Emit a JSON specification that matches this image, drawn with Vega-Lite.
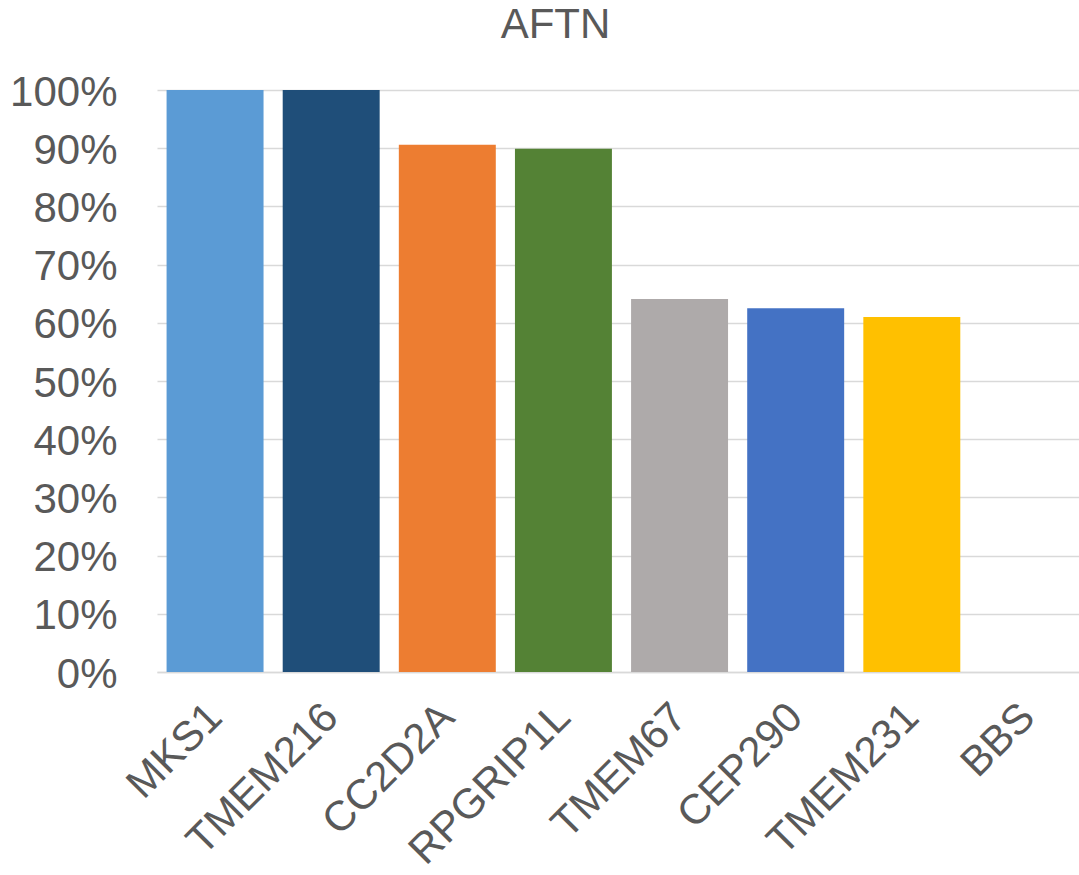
{
  "$schema": "https://vega.github.io/schema/vega-lite/v6.json",
  "autosize": {"type": "none"},
  "padding": {"left": 157, "top": 90, "right": 1, "bottom": 203},
  "width": 921,
  "height": 582,
  "background": "white",
  "title": {
    "text": "AFTN",
    "font": "Liberation Sans",
    "fontSize": 42,
    "fontWeight": "normal",
    "color": "#595959",
    "anchor": "middle",
    "frame": "group",
    "dx": -62,
    "offset": 24
  },
  "data": {
    "values": [
      {"gene": "MKS1", "share": 1.0},
      {"gene": "TMEM216", "share": 1.0},
      {"gene": "CC2D2A", "share": 0.906},
      {"gene": "RPGRIP1L", "share": 0.899},
      {"gene": "TMEM67", "share": 0.641},
      {"gene": "CEP290", "share": 0.625},
      {"gene": "TMEM231", "share": 0.61},
      {"gene": "BBS", "share": 0.0}
    ]
  },
  "mark": {"type": "bar"},
  "encoding": {
    "x": {
      "field": "gene",
      "type": "nominal",
      "sort": null,
      "title": null,
      "scale": {"range": [0, 929], "paddingInner": 0.165, "paddingOuter": 0.0825},
      "axis": {
        "labelAngle": -45,
        "labelAlign": "right",
        "labelBaseline": "middle",
        "labelPadding": 38,
        "labelLimit": 0,
        "labelFont": "Liberation Sans",
        "labelFontSize": 42,
        "labelColor": "#595959",
        "ticks": false,
        "domainColor": "#D9D9D9",
        "domainWidth": 1.5,
        "grid": false,
        "labelOverlap": false
      }
    },
    "y": {
      "field": "share",
      "type": "quantitative",
      "title": null,
      "scale": {"domain": [0, 1], "nice": false},
      "axis": {
        "values": [0, 0.1, 0.2, 0.3, 0.4, 0.5, 0.6, 0.7, 0.8, 0.9, 1.0],
        "format": ".0%",
        "labelFont": "Liberation Sans",
        "labelFontSize": 42,
        "labelColor": "#595959",
        "labelPadding": 40,
        "labelOffset": 2,
        "ticks": false,
        "domain": false,
        "gridColor": "#D9D9D9",
        "gridWidth": 1.5
      }
    },
    "color": {
      "field": "gene",
      "type": "nominal",
      "sort": null,
      "legend": null,
      "scale": {
        "domain": ["MKS1", "TMEM216", "CC2D2A", "RPGRIP1L", "TMEM67", "CEP290", "TMEM231", "BBS"],
        "range": ["#5B9BD5", "#1F4E79", "#ED7D31", "#548235", "#AEAAAA", "#4472C4", "#FFC000", "#264478"]
      }
    }
  },
  "config": {"view": {"stroke": null}}
}
